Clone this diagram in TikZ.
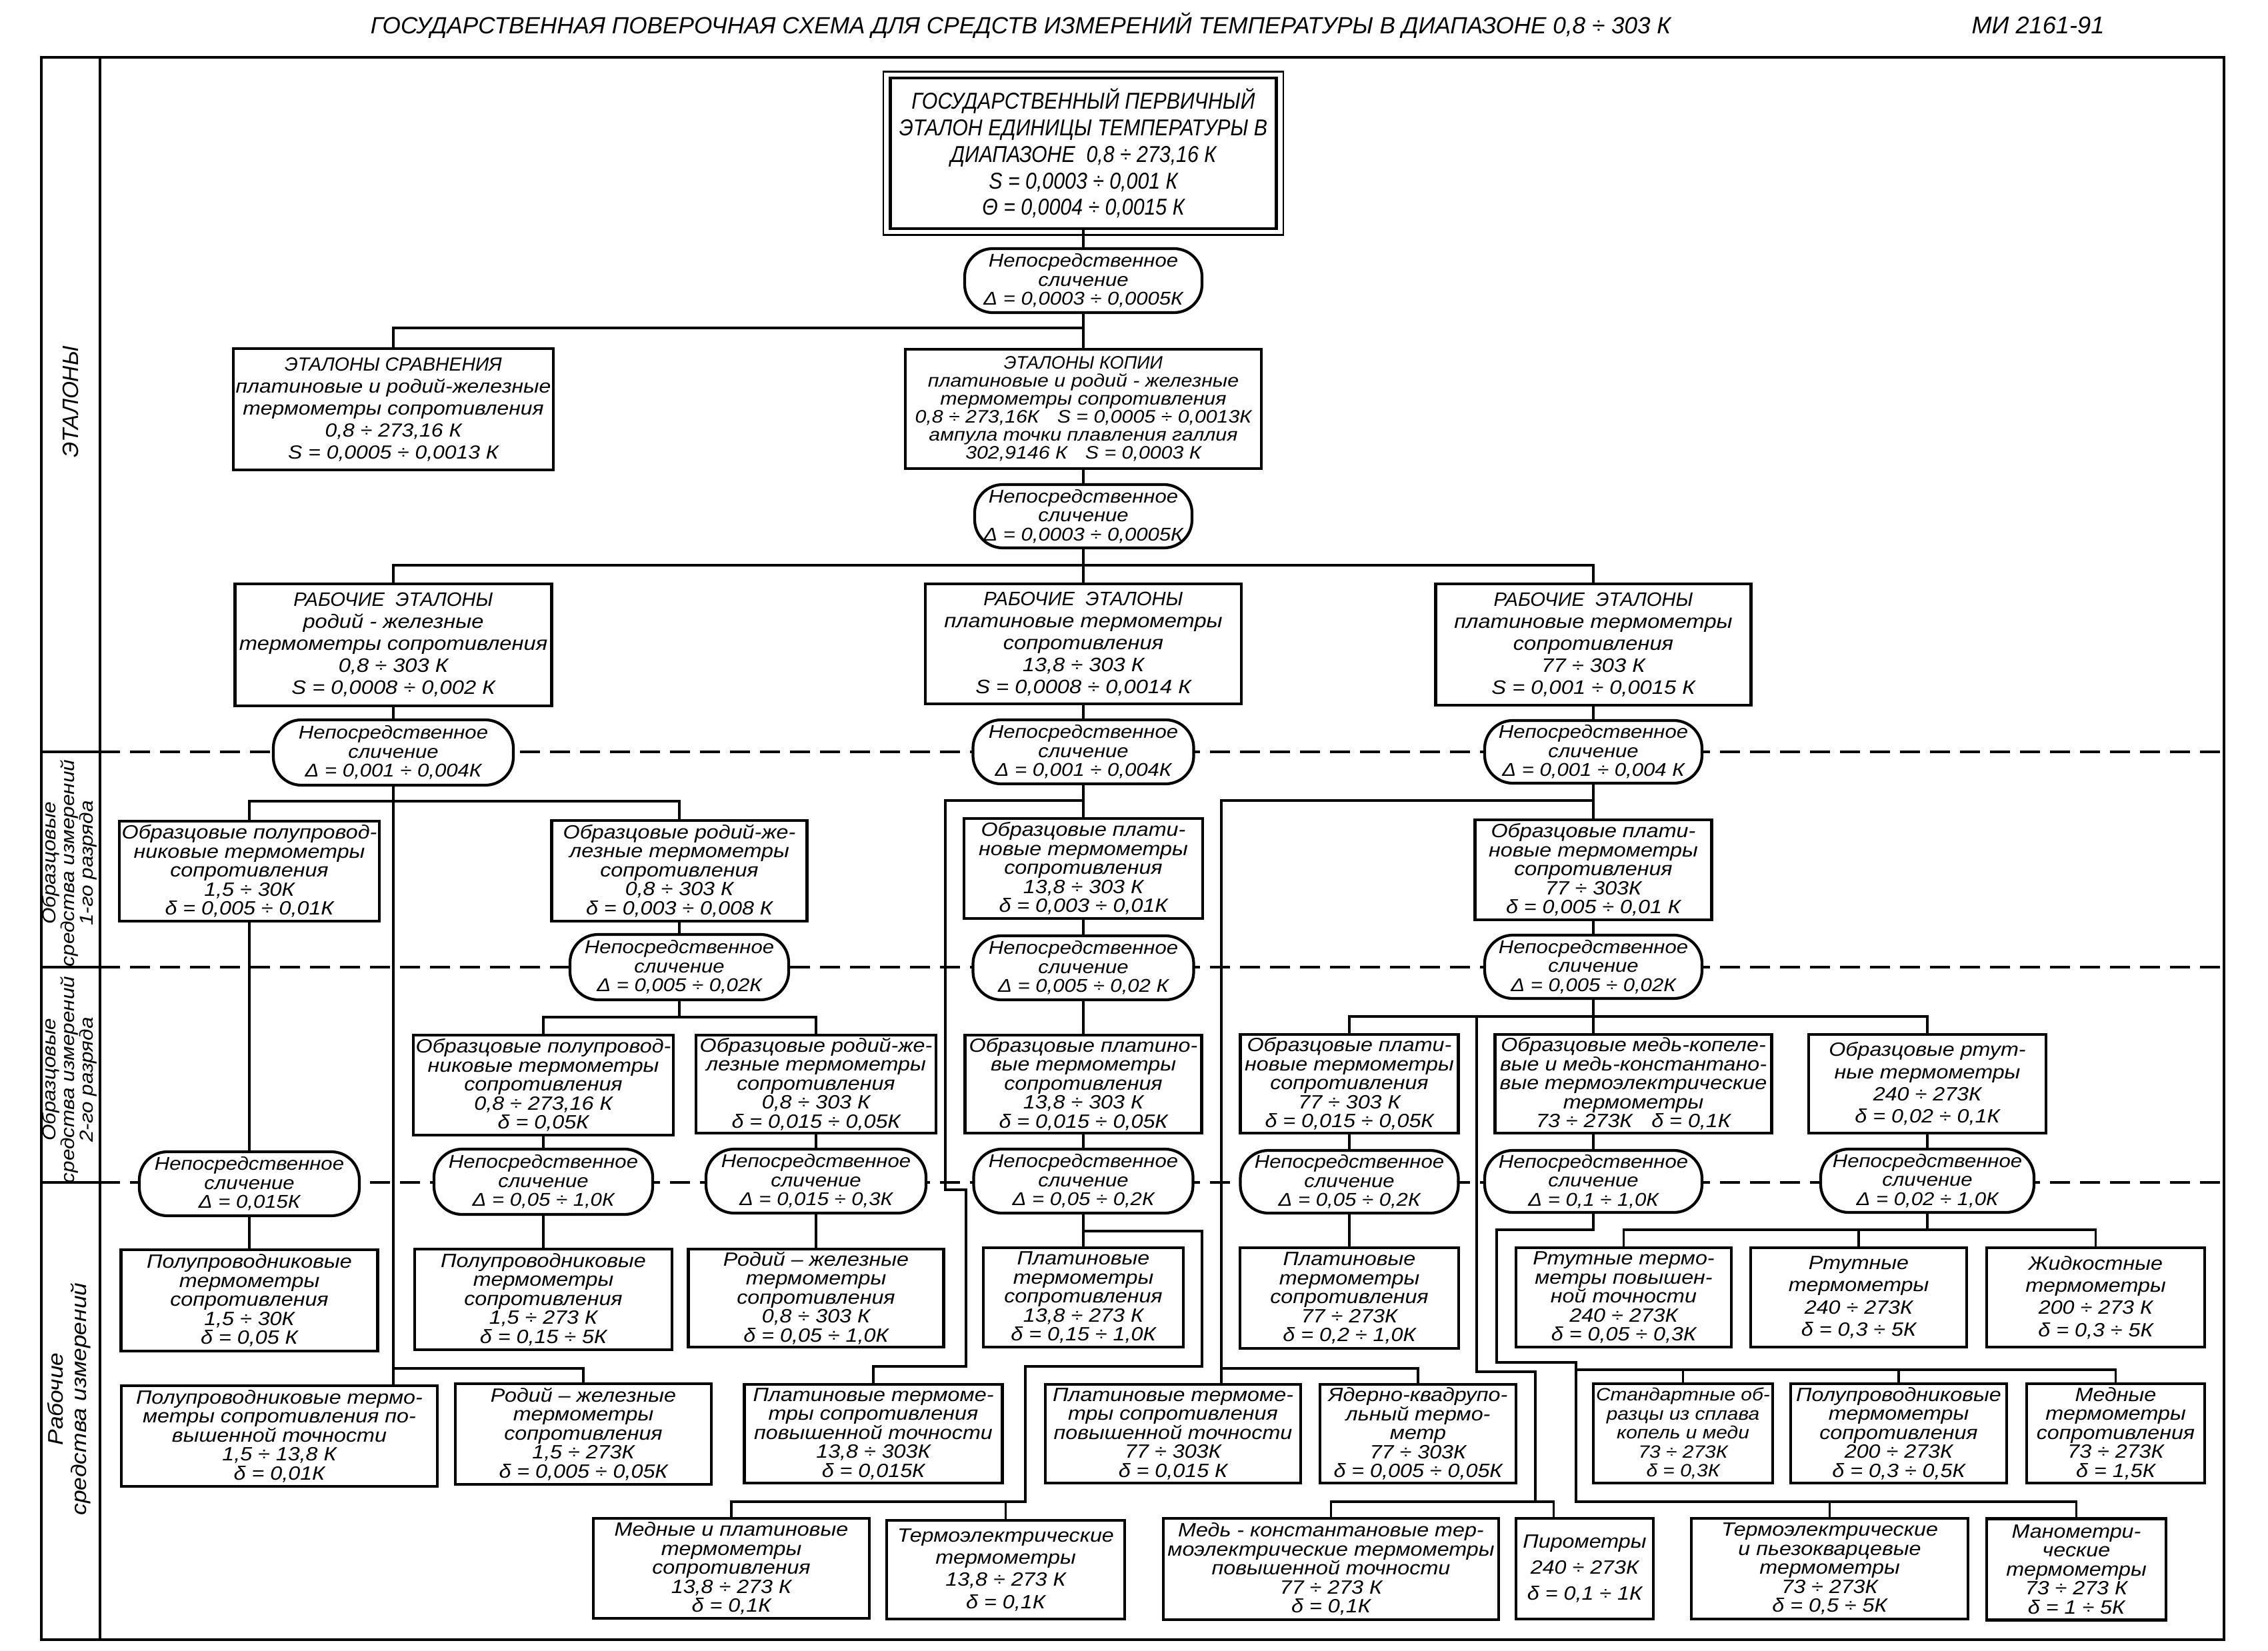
\documentclass[tikz,border=0pt]{standalone}
\usepackage{fontspec}
\setmainfont{Liberation Sans}
\newfontfamily\gost[FakeStretch=1.12]{Liberation Sans}
\newfontfamily\gostnarrow[FakeStretch=0.88]{Liberation Sans}

\tikzset{
  box/.style={draw, line width=1.3pt, fill=white, align=center, inner sep=1pt,
    font=\gost\itshape\fontsize{8.2}{8.1}\selectfont},
  bx/.style 2 args={box, minimum width=#1cm, minimum height=#2cm},
  cmp/.style 2 args={draw, line width=1.2pt, fill=white, align=center, inner sep=1pt,
    rounded corners=0.42cm, minimum width=#1cm, minimum height=#2cm,
    font=\gost\itshape\fontsize{7.9}{8.1}\selectfont},
  link/.style={line width=1pt},
  divider/.style={line width=1.1pt, dash pattern=on 0.3cm off 0.15cm},
  side/.style={rotate=90, align=center, font=\gost\itshape\fontsize{8}{8}\selectfont},
}

\begin{document}
\begin{tikzpicture}
\useasboundingbox (0,0) rectangle (34.02,-24.77);

\node[font=\itshape\fontsize{10}{12}\selectfont] (title) at (15.31,-0.38)
  {ГОСУДАРСТВЕННАЯ ПОВЕРОЧНАЯ СХЕМА ДЛЯ СРЕДСТВ ИЗМЕРЕНИЙ ТЕМПЕРАТУРЫ В ДИАПАЗОНЕ 0,8 ÷ 303 К};
\node[font=\itshape\fontsize{10.3}{12}\selectfont] (doc) at (30.57,-0.38) {МИ 2161-91};

% frame and levels
\draw[line width=1pt] (0.62,-0.86) rectangle (33.36,-24.6);
\draw[line width=1pt] (1.5,-0.86) -- (1.5,-24.6);
\foreach \yy in {-11.28,-14.51,-17.74} {
  \draw[line width=1pt] (0.62,\yy) -- (1.5,\yy);
  \draw[divider] (1.5,\yy) -- (33.36,\yy);
}
\node[side, font=\itshape\fontsize{9.5}{10}\selectfont] (lvl0) at (1.06,-6.03) {ЭТАЛОНЫ};
\node[side] (lvl1) at (1.04,-12.95) {Образцовые\\средства измерений\\1-го разряда};
\node[side] (lvl2) at (1.04,-16.2) {Образцовые\\средства измерений\\2-го разряда};
\node[side, font=\gost\itshape\fontsize{9}{10}\selectfont] (lvl3) at (1.04,-20.99) {Рабочие\\средства измерений};

% etalons
\node[box, minimum width=5.79cm, minimum height=2.26cm, line width=1.4pt,
  font=\gostnarrow\itshape\fontsize{9.8}{11.3}\selectfont] (prim) at (16.25,-2.30)
  {ГОСУДАРСТВЕННЫЙ ПЕРВИЧНЫЙ\\ЭТАЛОН ЕДИНИЦЫ ТЕМПЕРАТУРЫ В\\ДИАПАЗОНЕ\ \ 0,8 ÷ 273,16 К\\S = 0,0003 ÷ 0,001 К\\Θ = 0,0004 ÷ 0,0015 К};
\draw[line width=0.8pt] ([shift={(-0.08,0.07)}]prim.north west) rectangle ([shift={(0.08,-0.07)}]prim.south east);
\node[cmp={3.56}{0.96}] (e1) at (16.25,-4.21) {Непосредственное\\сличение\\Δ = 0,0003 ÷ 0,0005К};
\node[bx={4.77}{1.82}, font=\gost\itshape\fontsize{8.1}{9.4}\selectfont] (sravn) at (5.9,-6.14)
  {{\rmfamily ЭТАЛОНЫ СРАВНЕНИЯ}\\платиновые и родий-железные\\термометры сопротивления\\0,8 ÷ 273,16 К\\S = 0,0005 ÷ 0,0013 К};
\node[bx={5.34}{1.79}, font=\gost\itshape\fontsize{7.7}{7.7}\selectfont] (kopii) at (16.25,-6.135)
  {{\rmfamily ЭТАЛОНЫ КОПИИ}\\платиновые и родий - железные\\термометры сопротивления\\0,8 ÷ 273,16К\quad S = 0,0005 ÷ 0,0013К\\ампула точки плавления галлия\\302,9146 К\quad S = 0,0003 К};
\node[cmp={3.26}{0.95}] (e2) at (16.25,-7.745) {Непосредственное\\сличение\\Δ = 0,0003 ÷ 0,0005К};
\node[bx={4.75}{1.83}, font=\gost\itshape\fontsize{8.3}{9.4}\selectfont] (r1) at (5.9,-9.675)
  {{\rmfamily РАБОЧИЕ\ \ ЭТАЛОНЫ}\\родий - железные\\термометры сопротивления\\0,8 ÷ 303 К\\S = 0,0008 ÷ 0,002 К};
\node[bx={4.74}{1.80}, font=\gost\itshape\fontsize{8.3}{9.4}\selectfont] (r2) at (16.25,-9.66)
  {{\rmfamily РАБОЧИЕ\ \ ЭТАЛОНЫ}\\платиновые термометры\\сопротивления\\13,8 ÷ 303 К\\S = 0,0008 ÷ 0,0014 К};
\node[bx={4.73}{1.82}, font=\gost\itshape\fontsize{8.3}{9.4}\selectfont] (r3) at (23.9,-9.67)
  {{\rmfamily РАБОЧИЕ\ \ ЭТАЛОНЫ}\\платиновые термометры\\сопротивления\\77 ÷ 303 К\\S = 0,001 ÷ 0,0015 К};
\node[cmp={3.6}{0.98}] (e3a) at (5.9,-11.29) {Непосредственное\\сличение\\Δ = 0,001 ÷ 0,004К};
\node[cmp={3.31}{0.96}] (e3b) at (16.25,-11.28) {Непосредственное\\сличение\\Δ = 0,001 ÷ 0,004К};
\node[cmp={3.26}{0.94}] (e3c) at (23.9,-11.28) {Непосредственное\\сличение\\Δ = 0,001 ÷ 0,004 К};

% 1st rank
\node[bx={3.85}{1.5}] (op1) at (3.74,-13.07) {Образцовые полупровод-\\никовые термометры\\сопротивления\\1,5 ÷ 30К\\δ = 0,005 ÷ 0,01К};
\node[bx={3.83}{1.51}] (or1) at (10.19,-13.065) {Образцовые родий-же-\\лезные термометры\\сопротивления\\0,8 ÷ 303 К\\δ = 0,003 ÷ 0,008 К};
\node[bx={3.58}{1.5}] (opl1) at (16.25,-13.03) {Образцовые плати-\\новые термометры\\сопротивления\\13,8 ÷ 303 К\\δ = 0,003 ÷ 0,01К};
\node[bx={3.55}{1.5}] (opl77a) at (23.9,-13.05) {Образцовые плати-\\новые термометры\\сопротивления\\77 ÷ 303К\\δ = 0,005 ÷ 0,01 К};
\node[cmp={3.28}{0.98}] (e4a) at (10.19,-14.51) {Непосредственное\\сличение\\Δ = 0,005 ÷ 0,02К};
\node[cmp={3.31}{0.96}] (e4b) at (16.25,-14.52) {Непосредственное\\сличение\\Δ = 0,005 ÷ 0,02 К};
\node[cmp={3.26}{0.95}] (e4c) at (23.9,-14.505) {Непосредственное\\сличение\\Δ = 0,005 ÷ 0,02К};

% 2nd rank
\node[bx={3.86}{1.5}] (op2) at (8.15,-16.28) {Образцовые полупровод-\\никовые термометры\\сопротивления\\0,8 ÷ 273,16 К\\δ = 0,05К};
\node[bx={3.6}{1.47}] (or2) at (12.24,-16.265) {Образцовые родий-же-\\лезные термометры\\сопротивления\\0,8 ÷ 303 К\\δ = 0,015 ÷ 0,05К};
\node[bx={3.55}{1.47}] (opl2) at (16.25,-16.265) {Образцовые платино-\\вые термометры\\сопротивления\\13,8 ÷ 303 К\\δ = 0,015 ÷ 0,05К};
\node[bx={3.27}{1.48}] (opl77b) at (20.24,-16.26) {Образцовые плати-\\новые термометры\\сопротивления\\77 ÷ 303 К\\δ = 0,015 ÷ 0,05К};
\node[bx={4.15}{1.48}] (omk) at (24.5,-16.26) {Образцовые медь-копеле-\\вые и медь-константано-\\вые термоэлектрические\\термометры\\73 ÷ 273К\quad δ = 0,1К};
\node[bx={3.56}{1.48}, font=\gost\itshape\fontsize{8.2}{9.5}\selectfont] (ort) at (28.91,-16.26) {Образцовые ртут-\\ные термометры\\240 ÷ 273К\\δ = 0,02 ÷ 0,1К};
\node[cmp={3.3}{0.96}] (e5a) at (3.74,-17.76) {Непосредственное\\сличение\\Δ = 0,015К};
\node[cmp={3.28}{0.98}] (e5b) at (8.15,-17.73) {Непосредственное\\сличение\\Δ = 0,05 ÷ 1,0К};
\node[cmp={3.3}{0.96}] (e5c) at (12.24,-17.72) {Непосредственное\\сличение\\Δ = 0,015 ÷ 0,3К};
\node[cmp={3.29}{0.96}] (e5d) at (16.25,-17.72) {Непосредственное\\сличение\\Δ = 0,05 ÷ 0,2К};
\node[cmp={3.27}{0.94}] (e5g) at (20.24,-17.73) {Непосредственное\\сличение\\Δ = 0,05 ÷ 0,2К};
\node[cmp={3.26}{0.93}] (e5e) at (23.9,-17.725) {Непосредственное\\сличение\\Δ = 0,1 ÷ 1,0К};
\node[cmp={3.2}{0.95}] (e5f) at (28.91,-17.715) {Непосредственное\\сличение\\Δ = 0,02 ÷ 1,0К};

% working instruments
\node[bx={3.85}{1.52}] (pp30) at (3.74,-19.51) {Полупроводниковые\\термометры\\сопротивления\\1,5 ÷ 30К\\δ = 0,05 К};
\node[bx={3.86}{1.51}] (pp273) at (8.15,-19.495) {Полупроводниковые\\термометры\\сопротивления\\1,5 ÷ 273 К\\δ = 0,15 ÷ 5К};
\node[bx={3.83}{1.47}] (rz303) at (12.24,-19.475) {Родий – железные\\термометры\\сопротивления\\0,8 ÷ 303 К\\δ = 0,05 ÷ 1,0К};
\node[bx={3.0}{1.49}] (pl13) at (16.25,-19.465) {Платиновые\\термометры\\сопротивления\\13,8 ÷ 273 К\\δ = 0,15 ÷ 1,0К};
\node[bx={3.28}{1.51}] (pl77) at (20.24,-19.475) {Платиновые\\термометры\\сопротивления\\77 ÷ 273К\\δ = 0,2 ÷ 1,0К};
\node[bx={3.23}{1.49}] (rtp) at (24.355,-19.465) {Ртутные термо-\\метры повышен-\\ной точности\\240 ÷ 273К\\δ = 0,05 ÷ 0,3К};
\node[bx={3.24}{1.49}, font=\gost\itshape\fontsize{8.2}{9.5}\selectfont] (rt) at (27.88,-19.465) {Ртутные\\термометры\\240 ÷ 273К\\δ = 0,3 ÷ 5К};
\node[bx={3.27}{1.49}, font=\gost\itshape\fontsize{8.2}{9.5}\selectfont] (zh) at (31.435,-19.465) {Жидкостные\\термометры\\200 ÷ 273 К\\δ = 0,3 ÷ 5К};

\node[bx={4.74}{1.51}] (ppt) at (4.19,-21.545) {Полупроводниковые термо-\\метры сопротивления по-\\вышенной точности\\1,5 ÷ 13,8 К\\δ = 0,01К};
\node[bx={3.84}{1.51}] (rz273) at (8.75,-21.515) {Родий – железные\\термометры\\сопротивления\\1,5 ÷ 273К\\δ = 0,005 ÷ 0,05К};
\node[bx={3.87}{1.48}] (ptp13) at (13.1,-21.51) {Платиновые термоме-\\тры сопротивления\\повышенной точности\\13,8 ÷ 303К\\δ = 0,015К};
\node[bx={3.83}{1.48}] (ptp77) at (17.595,-21.51) {Платиновые термоме-\\тры сопротивления\\повышенной точности\\77 ÷ 303К\\δ = 0,015 К};
\node[bx={2.94}{1.48}] (yad) at (21.27,-21.51) {Ядерно-квадрупо-\\льный термо-\\метр\\77 ÷ 303К\\δ = 0,005 ÷ 0,05К};
\node[bx={2.69}{1.49}, font=\gost\itshape\fontsize{7.6}{8.1}\selectfont] (std) at (25.245,-21.505) {Стандартные об-\\разцы из сплава\\копель и меди\\73 ÷ 273К\\δ = 0,3К};
\node[bx={3.24}{1.49}] (pp200) at (28.48,-21.505) {Полупроводниковые\\термометры\\сопротивления\\200 ÷ 273К\\δ = 0,3 ÷ 0,5К};
\node[bx={2.67}{1.49}] (med) at (31.735,-21.505) {Медные\\термометры\\сопротивления\\73 ÷ 273К\\δ = 1,5К};

\node[bx={4.14}{1.5}] (mp) at (10.97,-23.53) {Медные и платиновые\\термометры\\сопротивления\\13,8 ÷ 273 К\\δ = 0,1К};
\node[bx={3.57}{1.48}, font=\gost\itshape\fontsize{8.2}{9.5}\selectfont] (te) at (15.085,-23.55) {Термоэлектрические\\термометры\\13,8 ÷ 273 К\\δ = 0,1К};
\node[bx={5.03}{1.52}] (mk) at (19.965,-23.54) {Медь - константановые тер-\\моэлектрические термометры\\повышенной точности\\77 ÷ 273 К\\δ = 0,1К};
\node[bx={2.06}{1.51}, font=\gost\itshape\fontsize{8.2}{11}\selectfont] (pir) at (23.77,-23.535) {Пирометры\\240 ÷ 273К\\δ = 0,1 ÷ 1К};
\node[bx={4.15}{1.51}] (tep) at (27.445,-23.535) {Термоэлектрические\\и пьезокварцевые\\термометры\\73 ÷ 273К\\δ = 0,5 ÷ 5К};
\node[bx={2.69}{1.52}] (man) at (31.145,-23.545) {Манометри-\\ческие\\термометры\\73 ÷ 273 К\\δ = 1 ÷ 5К};

% links
\draw[link] (prim.south) -- (e1.north);
\draw[link] (e1.south) -- (kopii.north);
\coordinate (j1) at (16.25,-4.92);
\draw[link] (sravn.north) |- (j1);
\draw[link] (kopii.south) -- (e2.north);
\coordinate (j2) at (16.25,-8.48);
\draw[link] (e2.south) -- (r2.north);
\draw[link] (r1.north) |- (j2) -| (r3.north);
\draw[link] (r1.south) -- (e3a.north);
\draw[link] (r2.south) -- (e3b.north);
\draw[link] (r3.south) -- (e3c.north);

\draw[link] (e3a.south) -- (e3a.south |- ppt.north);
\coordinate (j3) at (5.9,-12.02);
\draw[link] (op1.north) |- (j3) -| (or1.north);
\coordinate (j4) at (5.9,-20.53);
\draw[link] (j4) -| (rz273.north);
\draw[link] (op1.south) -- (e5a.north);
\draw[link] (e5a.south) -- (pp30.north);
\draw[link] (or1.south) -- (e4a.north);
\coordinate (j5) at (10.19,-15.26);
\draw[link] (e4a.south) -- (j5);
\draw[link] (op2.north) |- (j5) -| (or2.north);
\draw[link] (op2.south) -- (e5b.north);
\draw[link] (e5b.south) -- (pp273.north);
\draw[link] (or2.south) -- (e5c.north);
\draw[link] (e5c.south) -- (rz303.north);

\draw[link] (e3b.south) -- (opl1.north);
\coordinate (j6) at (16.25,-12.01);
\draw[link] (j6) -| (14.18,-17.85) -| (14.49,-20.5) -| (ptp13.north);
\draw[link] (opl1.south) -- (e4b.north);
\draw[link] (e4b.south) -- (opl2.north);
\draw[link] (opl2.south) -- (e5d.north);
\draw[link] (e5d.south) -- (pl13.north);
\coordinate (j7) at (16.25,-18.47);
\coordinate (j8) at (15.38,-22.53);
\draw[link] (j7) -| (18.03,-20.5) -| (j8) -| (mp.north);
\draw[link] (te.north) -- (te.north |- j8);

\draw[link] (e3c.south) -- (opl77a.north);
\coordinate (j9) at (23.9,-12.01);
\coordinate (j10) at (18.32,-20.53);
\draw[link] (j9) -| (j10) -- (j10 |- ptp77.north);
\draw[link] (j10) -| (yad.north);
\draw[link] (opl77a.south) -- (e4c.north);
\coordinate (j11) at (23.9,-15.25);
\draw[link] (e4c.south) -- (e4c.south |- omk.north);
\draw[link] (opl77b.north) |- (j11) -| (ort.north);
\draw[link] (opl77b.south) -- (e5g.north);
\draw[link] (e5g.south) -- (pl77.north);
\draw[link] (e5e.north |- omk.south) -- (e5e.north);
\draw[link] (ort.south) -- (e5f.north);

\coordinate (j12) at (22.15,-15.25);
\coordinate (j13) at (23.03,-22.53);
\draw[link] (j12) |- (23.03,-20.58) -- (j13);
\draw[link] (mk.north) |- (j13) -| ([xshift=0.59cm]pir.north west);
\coordinate (j14) at (23.64,-20.55);
\coordinate (j15) at (23.64,-22.53);
\draw[link] (e5e.south) |- (22.45,-18.45) |- (23.64,-20.44) -- (j15) -| (man.north);
\draw[link] (std.north) |- (j14) -| (med.north);
\draw[link] (pp200.north) -- (pp200.north |- j14);
\draw[link] (tep.north) -- (tep.north |- j15);
\coordinate (j16) at (28.91,-18.45);
\draw[link] (e5f.south) -- (j16);
\draw[link] (rtp.north) |- (j16) -| (zh.north);
\draw[link] (rt.north) -- (rt.north |- j16);
\end{tikzpicture}
\end{document}
